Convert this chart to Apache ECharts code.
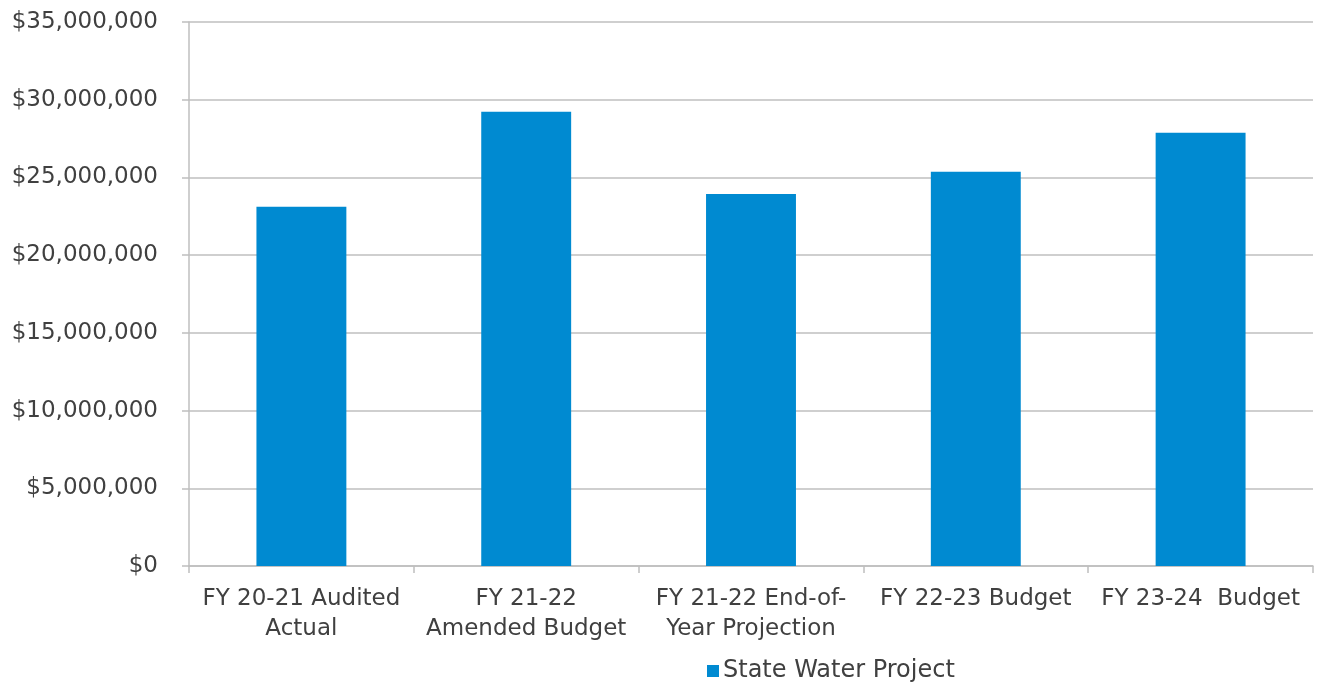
<!DOCTYPE html>
<html>
<head>
<meta charset="utf-8">
<script src="https://cdn.jsdelivr.net/npm/echarts@6/dist/echarts.min.js"></script>
<style>html,body{margin:0;padding:0;background:#fff;}#c{width:1320px;height:684px;}</style>
</head>
<body>
<div id="c"></div>
<script>
const categories = ["FY 20-21 Audited\nActual", "FY 21-22\nAmended Budget", "FY 21-22 End-of-\nYear Projection", "FY 22-23 Budget", "FY 23-24  Budget"];
const seriesName = "State Water Project";
const values = [23120000, 29230000, 23940000, 25370000, 27880000];
const yTicks = { min: 0, max: 35000000, interval: 5000000 };

const chart = echarts.init(document.getElementById('c'));
const font = "'DejaVu Sans', sans-serif";
const textColor = '#404040';
const lineColor = '#bfbfbf';
chart.setOption({
  animation: false,
  grid: { left: 189, right: 7, top: 22, bottom: 118, containLabel: false },
  legend: {
    top: 654, left: 702,
    icon: 'rect', itemWidth: 12, itemHeight: 12, itemGap: 10,
    textStyle: { fontFamily: font, fontSize: 24, color: textColor, padding: [0, 0, 0, -1] },
    data: [seriesName]
  },
  xAxis: {
    type: 'category',
    data: categories,
    axisLine: { lineStyle: { color: lineColor, width: 1.5 } },
    axisTick: { show: true, length: 7, lineStyle: { color: lineColor, width: 1.5 } },
    axisLabel: { interval: 0, margin: 18, fontFamily: font, fontSize: 23, color: textColor, lineHeight: 30 }
  },
  yAxis: {
    type: 'value',
    min: yTicks.min, max: yTicks.max, interval: yTicks.interval,
    axisLine: { show: true, lineStyle: { color: lineColor, width: 1.5 } },
    axisTick: { show: true, length: 7, lineStyle: { color: lineColor, width: 1.5 } },
    splitLine: { lineStyle: { color: lineColor, width: 1.5 } },
    axisLabel: {
      margin: 31, fontFamily: font, fontSize: 23, color: textColor,
      formatter: v => '$' + v.toLocaleString('en-US')
    }
  },
  series: [{
    name: seriesName,
    type: 'bar',
    data: values,
    barWidth: '40%',
    itemStyle: { color: '#008AD1' }
  }]
});
</script>
</body>
</html>
